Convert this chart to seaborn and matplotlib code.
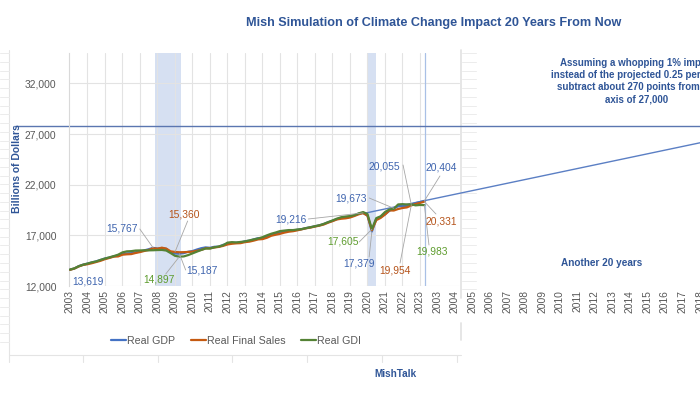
import numpy as np
import pandas as pd
import matplotlib
matplotlib.use("Agg")
import matplotlib.pyplot as plt
from matplotlib.lines import Line2D
import seaborn as sns

# ---------------- data ----------------
years = list(range(2003, 2024))
quarters_2023 = 2  # data through 2023 Q2

real_gdp = [13619, 13730, 13960, 14110,
            14210, 14320, 14440, 14570,
            14720, 14800, 14930, 15010,
            15180, 15220, 15240, 15330,
            15400, 15520, 15630, 15767,
            15700, 15750, 15670, 15330,
            15210, 15187, 15240, 15380,
            15450, 15600, 15730, 15810,
            15770, 15870, 15880, 16060,
            16180, 16250, 16270, 16290,
            16420, 16470, 16600, 16720,
            16690, 16860, 17050, 17140,
            17280, 17380, 17440, 17470,
            17550, 17620, 17720, 17810,
            17900, 17990, 18120, 18300,
            18440, 18600, 18730, 18760,
            18840, 18970, 19140, 19216,
            18950, 17379, 18620, 18830,
            19080, 19420, 19673, 19870,
            19900, 19880, 20055, 20180,
            20290, 20404]

real_final_sales = [13600, 13720, 13930, 14080,
                    14150, 14250, 14370, 14490,
                    14650, 14770, 14900, 14920,
                    15090, 15130, 15150, 15260,
                    15350, 15460, 15560, 15720,
                    15680, 15780, 15690, 15420,
                    15360, 15330, 15340, 15360,
                    15390, 15480, 15560, 15720,
                    15720, 15800, 15860, 15960,
                    16100, 16170, 16210, 16230,
                    16330, 16380, 16480, 16600,
                    16630, 16760, 16960, 17060,
                    17150, 17270, 17360, 17410,
                    17500, 17600, 17700, 17770,
                    17870, 17960, 18070, 18250,
                    18400, 18570, 18640, 18680,
                    18760, 18910, 19080, 19200,
                    18940, 17500, 18500, 18720,
                    19050, 19460, 19450, 19600,
                    19700, 19760, 19954, 20100,
                    20200, 20331]

real_gdi = [13619, 13740, 13950, 14100,
            14210, 14340, 14420, 14580,
            14710, 14830, 14950, 15090,
            15320, 15420, 15440, 15500,
            15510, 15520, 15520, 15530,
            15550, 15560, 15500, 15250,
            14980, 14897, 14920, 15050,
            15220, 15390, 15560, 15700,
            15700, 15820, 15900, 16020,
            16280, 16330, 16300, 16350,
            16400, 16500, 16600, 16690,
            16820, 17000, 17160, 17280,
            17420, 17470, 17520, 17520,
            17580, 17620, 17720, 17800,
            17900, 17990, 18130, 18300,
            18470, 18650, 18790, 18860,
            18900, 19000, 19170, 19300,
            19100, 17605, 18700, 18880,
            19300, 19560, 19620, 20050,
            20080, 20050, 20060, 19960,
            20000, 19983]

series_names = ["Real GDP", "Real Final Sales", "Real GDI"]
series_colors = ["#4472C4", "#C55A11", "#548235"]
label_colors = ["#3E64AE", "#B5531A", "#5E9C2E"]

trend_x = [2019.75, 2040.0]
trend_y = [19150, 26500]
reference_level = 27800

recessions = [(2007.85, 2009.35), (2020.0, 2020.5)]
latest_marker = 2023.3

y_ticks = [12000, 17000, 22000, 27000, 32000]
tick_years = list(range(2003, 2040))
tick_labels = [str(y) for y in range(2003, 2024)] + [str(y) for y in range(2003, 2019)]

# annotations: (text, series index, target x, target y)
callouts = [
    ("13,619", 0, None, None),
    ("15,767", 0, 2007.75, 15767),
    ("15,360", 1, 2009.0, 15360),
    ("14,897", 2, 2009.25, 14897),
    ("15,187", 0, 2009.25, 15187),
    ("19,216", 0, 2019.75, 19216),
    ("17,605", 2, 2020.25, 17605),
    ("17,379", 0, 2020.25, 17379),
    ("19,673", 0, 2021.5, 19673),
    ("20,055", 0, 2022.5, 20055),
    ("19,954", 1, 2022.5, 19954),
    ("20,404", 0, 2023.25, 20404),
    ("20,331", 1, 2023.25, 20331),
    ("19,983", 2, 2023.25, 19983),
]

# ---------------- build frame ----------------
n = len(real_gdp)
xq = []
for y in years:
    for q in range(4):
        if y == 2023 and q >= quarters_2023:
            break
        xq.append(y + q / 4)
xq = xq[:n]
df = pd.concat([
    pd.DataFrame({"x": xq, "value": vals, "series": name})
    for name, vals in zip(series_names, [real_gdp, real_final_sales, real_gdi])
], ignore_index=True)

# ---------------- figure ----------------
sns.set_style("white")
plt.rcParams["font.family"] = ["Liberation Sans", "DejaVu Sans"]

W, H = 700, 394
fig = plt.figure(figsize=(7, 3.94), dpi=100)
ax_l, ax_r, ax_t, ax_b = 69, 700, 53, 286
ax = fig.add_axes([ax_l / W, 1 - ax_b / H, (ax_r - ax_l) / W, (ax_b - ax_t) / H])

x0 = 2003 - 1 / 17.55
x1 = 2003 + (700 - 70) / 17.55
ax.set_xlim(x0, x1)
ax.set_ylim(12000, 35000)

def px2data(px, py):
    xd = 2003 + (px - 70) / 17.55
    yd = 12000 + (ax_b - py) / 50.65 * 5000
    return xd, yd

# recession shading
for a, b in recessions:
    ax.axvspan(a, b, color="#D6E0F2", zorder=0, lw=0)
ax.axvline(latest_marker, color="#A9C0E6", lw=0.9, zorder=1)

# gridlines (only within main chart box)
grid_end = px2data(460, 0)[0]
for yr in range(2004, 2024):
    ax.plot([yr, yr], [12000, 35000], color="#E3E3E3", lw=0.8, zorder=0.5)
for yv in y_ticks:
    ax.plot([x0, grid_end], [yv, yv], color="#E3E3E3", lw=0.8, zorder=0.5)

# data lines via seaborn
sns.lineplot(data=df, x="x", y="value", hue="series", hue_order=series_names,
             palette=series_colors, lw=1.6, ax=ax, zorder=3, legend=False)

# trend projection and reference line
ax.plot(trend_x, trend_y, color="#5B7FC4", lw=1.0, zorder=2, clip_on=True)
ax.axhline(reference_level, xmin=-(ax_l - 15) / (ax_r - ax_l), xmax=1,
           color="#5B76B0", lw=1.0, clip_on=False, zorder=2)

# axes styling
ax.set_yticks(y_ticks)
ax.set_yticklabels([f"{v:,}" for v in y_ticks], fontsize=7.4, color="#595959")
ax.set_xticks(tick_years)
ax.set_xticklabels(tick_labels, rotation=90, fontsize=7.4, color="#595959")
ax.tick_params(axis="both", length=0, pad=3)
ax.tick_params(axis="y", pad=9)
for s in ["top", "right", "bottom"]:
    ax.spines[s].set_visible(False)
ax.spines["left"].set_color("#D9D9D9")
ax.spines["left"].set_linewidth(0.8)
ax.set_xlabel("")
ax.set_ylabel("")
ax.patch.set_alpha(0)

# callout positions in pixels (label center) and leader start
callout_pos = {
    "13,619": (88, 282, None),
    "15,767": (122, 229, (140, 229)),
    "15,360": (184, 215, (188, 221)),
    "14,897": (159, 280, (166, 274)),
    "15,187": (202, 271, (186, 270)),
    "19,216": (292, 220, (309, 219)),
    "17,605": (344, 242, (360, 242)),
    "17,379": (360, 264, (370, 257)),
    "19,673": (352, 199, (370, 198)),
    "20,055": (385, 167, (404, 165)),
    "19,954": (396, 271, (401, 263)),
    "20,404": (442, 168, (441, 176)),
    "20,331": (442, 222, (437, 214)),
    "19,983": (433, 252, (430, 245)),
}
for text, si, tx, ty in callouts:
    cx, cy, lead = callout_pos[text]
    xd, yd = px2data(cx, cy)
    ax.text(xd, yd, text, color=label_colors[si], fontsize=7.4,
            ha="center", va="center", zorder=6)
    if lead is not None and tx is not None:
        lx, ly = px2data(*lead)
        ax.plot([lx, tx], [ly, ty], color="#A6A6A6", lw=0.6, zorder=5)

# legend
handles = [Line2D([0], [0], color=c, lw=1.6) for c in series_colors]
leg = ax.legend(handles, series_names, loc="center",
                bbox_to_anchor=((236 - ax_l) / (ax_r - ax_l), -(341 - ax_b) / (ax_b - ax_t)),
                ncol=3, frameon=False, fontsize=7.7, handlelength=1.4,
                handletextpad=0.1, columnspacing=1.5)
for t in leg.get_texts():
    t.set_color("#595959")

# texts
blue = "#2F5597"
fig.text(434 / W, 1 - 23 / H, "Mish Simulation of Climate Change Impact 20 Years From Now",
         ha="center", va="center", fontsize=9.1, fontweight="bold", color=blue)
fig.text(17 / W, 1 - 169 / H, "Billions of Dollars", rotation=90, ha="center", va="center",
         fontsize=7.5, fontweight="bold", color=blue)
fig.text(637 / W, 1 - 81 / H,
         "Assuming a whopping 1% impact\ninstead of the projected 0.25 percent,\n"
         "subtract about 270 points from the\naxis of 27,000",
         ha="center", va="center", fontsize=7, fontweight="bold", color=blue,
         linespacing=1.25)
fig.text(602 / W, 1 - 263 / H, "Another 20 years", ha="center", va="center",
         fontsize=7.2, fontweight="bold", color=blue)
fig.text(395 / W, 1 - 374 / H, "MishTalk", ha="center", va="center",
         fontsize=7.2, fontweight="bold", color=blue)

# chart-box decorations (composite screenshot frame)
def fline(xs, ys, color="#E4E4E4", lw=0.8):
    fig.add_artist(Line2D([p / W for p in xs], [1 - p / H for p in ys],
                          color=color, lw=lw, zorder=0))

fline([9, 9], [50, 355])
fline([9, 461], [355, 355])
fline([461, 461], [50, 298], lw=1.3)
fline([461, 461], [323, 340], lw=1.3)
for px in [9, 83, 158, 232, 307, 382, 457]:
    fline([px, px], [355, 362])
yy = 53.0
while yy < 350:
    fline([0, 9], [yy, yy], color="#ECECEC", lw=0.7)
    if yy < 292:
        fline([462, 476], [yy, yy], color="#ECECEC", lw=0.7)
    yy += 8.75

fig.savefig("out.png", dpi=100)
